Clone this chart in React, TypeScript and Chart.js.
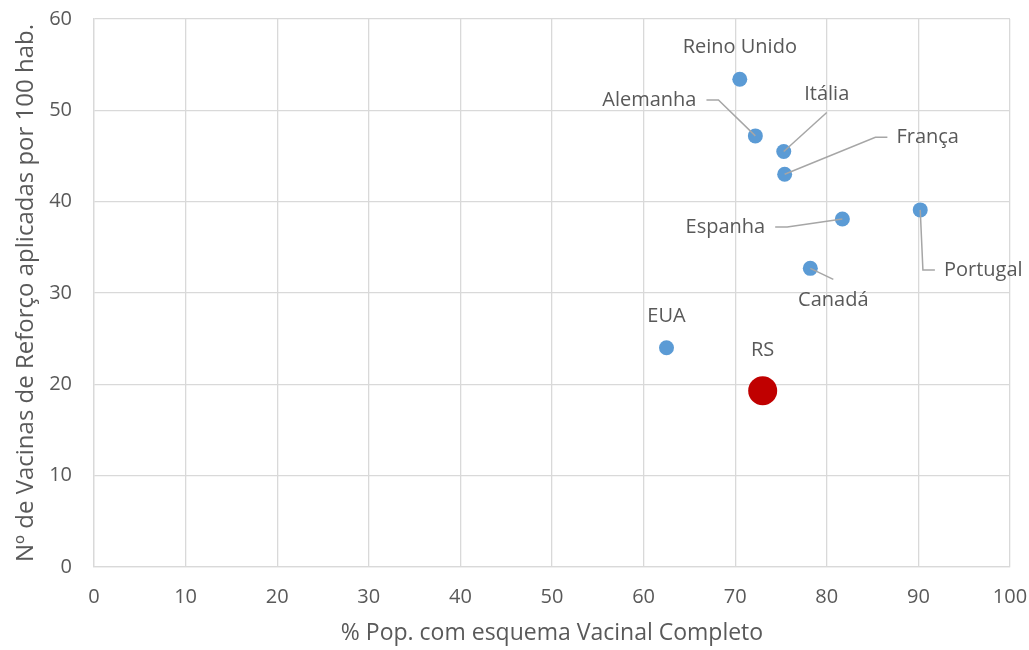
import React, { useEffect, useRef } from "react";
import { Chart, registerables } from "chart.js";

Chart.register(...registerables);

// ---- Data ----
const countries = ["Reino Unido", "Alemanha", "Itália", "França", "Espanha", "Portugal", "Canadá", "EUA"];
const coverage = [70.5, 72.2, 75.3, 75.4, 81.7, 90.2, 78.2, 62.5];
const boosters = [53.4, 47.2, 45.5, 43.0, 38.1, 39.1, 32.7, 24.0];

const rsNames = ["RS"];
const rsCoverage = [73.0];
const rsBoosters = [19.3];

const xTitle = "% Pop. com esquema Vacinal Completo";
const yTitle = "Nº de Vacinas de Reforço aplicadas por 100 hab.";

// label placement (offset of label centre from its point, in px) and leader side
const labelDx = [0, -106, 43, 143, -117, 63, 23, 0];
const labelDy = [-32, -36, -57, -37, 8, 60, 32, -32];
const leaderSide = ["", "right", "bottom", "left", "right", "left", "top", ""];
const rsDx = [0];
const rsDy = [-40];

const FONT = "'Open Sans', sans-serif";
const TEXT = "#595959";
const GRID = "#d9d9d9";

const labelsPlugin = {
  id: "pointLabels",
  afterDatasetsDraw(chart: any) {
    const ctx = chart.ctx as CanvasRenderingContext2D;
    ctx.save();
    ctx.font = `20px ${FONT}`;
    ctx.textAlign = "center";
    ctx.textBaseline = "middle";

    const items: { x: number; y: number; text: string; dx: number; dy: number; side: string }[] = [];
    const m0 = chart.getDatasetMeta(0);
    m0.data.forEach((el: any, i: number) => {
      items.push({ x: el.x, y: el.y, text: countries[i], dx: labelDx[i], dy: labelDy[i], side: leaderSide[i] });
    });
    const m1 = chart.getDatasetMeta(1);
    m1.data.forEach((el: any, i: number) => {
      items.push({ x: el.x, y: el.y, text: rsNames[i], dx: rsDx[i], dy: rsDy[i], side: "" });
    });

    // leader lines
    ctx.strokeStyle = "#a6a6a6";
    ctx.lineWidth = 1.5;
    items.forEach((it) => {
      if (!it.side) return;
      const cx = it.x + it.dx;
      const cy = it.y + it.dy;
      const w = ctx.measureText(it.text).width;
      let pts: number[][] = [];
      if (it.side === "right") {
        const sx = cx + w / 2 + 10;
        pts = [[sx, cy], [sx + 12, cy], [it.x, it.y]];
      } else if (it.side === "left") {
        const sx = cx - w / 2 - 9;
        pts = [[sx, cy], [sx - 12, cy], [it.x, it.y]];
      } else if (it.side === "bottom") {
        pts = [[cx, cy + 18], [it.x, it.y]];
      } else if (it.side === "top") {
        pts = [[cx, cy - 21], [it.x, it.y]];
      }
      ctx.beginPath();
      pts.forEach((p, k) => (k === 0 ? ctx.moveTo(p[0], p[1]) : ctx.lineTo(p[0], p[1])));
      ctx.stroke();
    });

    // texts
    ctx.fillStyle = TEXT;
    items.forEach((it) => {
      ctx.fillText(it.text, it.x + it.dx, it.y + it.dy);
    });
    ctx.restore();
  },
};

export default function App() {
  const ref = useRef<HTMLCanvasElement | null>(null);

  useEffect(() => {
    if (!ref.current) return;
    const chart = new Chart(ref.current, {
      type: "scatter",
      data: {
        datasets: [
          {
            label: "Países",
            data: coverage.map((x, i) => ({ x, y: boosters[i] })),
            backgroundColor: "#5b9bd5",
            borderColor: "#5b9bd5",
            pointRadius: 7.5,
            pointBorderWidth: 0,
          },
          {
            label: "RS",
            data: rsCoverage.map((x, i) => ({ x, y: rsBoosters[i] })),
            backgroundColor: "#c00000",
            borderColor: "#c00000",
            pointRadius: 14.5,
            pointBorderWidth: 0,
          },
        ],
      },
      options: {
        animation: false,
        responsive: false,
        maintainAspectRatio: false,
        layout: { padding: { top: 19, right: 19, left: 0, bottom: 0 } },
        plugins: { legend: { display: false }, tooltip: { enabled: false } },
        scales: {
          x: {
            type: "linear",
            min: 0,
            max: 100,
            ticks: { stepSize: 10, color: TEXT, font: { family: FONT, size: 20 }, padding: 18 },
            grid: { color: GRID, drawTicks: false, lineWidth: 1.3 },
            border: { color: GRID, width: 1.3 },
            title: {
              display: true,
              text: xTitle,
              color: TEXT,
              font: { family: FONT, size: 23 },
              padding: { top: 0, bottom: 3 },
            },
            afterFit: (s: any) => {
              s.height = 83;
              s.paddingLeft = 0;
              s.paddingRight = 0;
            },
          },
          y: {
            type: "linear",
            min: 0,
            max: 60,
            ticks: { stepSize: 10, color: TEXT, font: { family: FONT, size: 20 }, padding: 22 },
            grid: { color: GRID, drawTicks: false, lineWidth: 1.3 },
            border: { color: GRID, width: 1.3 },
            title: {
              display: true,
              text: yTitle,
              color: TEXT,
              font: { family: FONT, size: 24 },
              padding: { top: 12, bottom: 0 },
            },
            afterFit: (s: any) => {
              s.width = 94;
              s.paddingTop = 0;
              s.paddingBottom = 0;
            },
          },
        },
      } as any,
      plugins: [labelsPlugin],
    });
    return () => chart.destroy();
  }, []);

  return (
    <div style={{ position: "fixed", left: 0, top: 0, width: 1029, height: 650, background: "#fff" }}>
      <canvas ref={ref} width={1029} height={650} style={{ width: 1029, height: 650 }} />
    </div>
  );
}
